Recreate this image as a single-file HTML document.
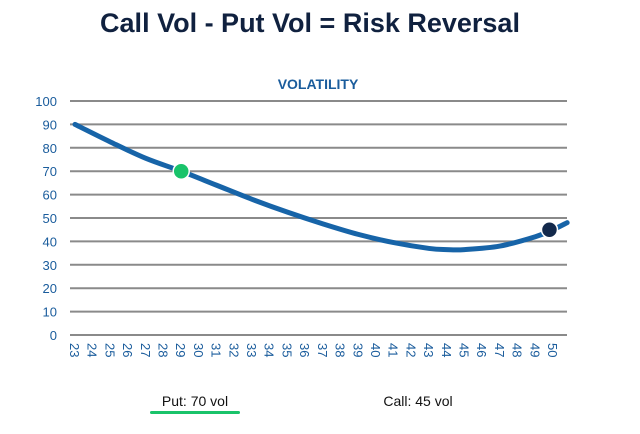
<!DOCTYPE html>
<html><head><meta charset="utf-8"><style>
body{margin:0;background:#fff;width:640px;height:429px;overflow:hidden;font-family:"Liberation Sans",sans-serif}
</style></head><body>
<svg width="640" height="429">
<text x="310" y="32" text-anchor="middle" font-size="27" font-weight="bold" fill="#10213f">Call Vol - Put Vol =  Risk Reversal</text>
<text x="318" y="89" text-anchor="middle" font-size="14" font-weight="bold" fill="#1a5c9c">VOLATILITY</text>
<g id="grid"></g><g id="ylab"></g><g id="xlab"></g>
<path id="curve" fill="none" stroke="#1764a8" stroke-width="5" stroke-linecap="round"/>
<g id="dots"></g>
<text x="195" y="406" text-anchor="middle" font-size="14" fill="#111">Put: 70 vol</text>
<rect x="150" y="411" width="90" height="3" rx="1.5" fill="#19c36a"/>
<text x="418" y="406" text-anchor="middle" font-size="14" fill="#111">Call: 45 vol</text>
</svg>
<script>
const yTicks=[0,10,20,30,40,50,60,70,80,90,100];
const xTicks=[23,24,25,26,27,28,29,30,31,32,33,34,35,36,37,38,39,40,41,42,43,44,45,46,47,48,49,50];
const strikes=[23,25,27,29,31,33,35,37,39,41,43,44,45,47,49,50,50.8];
const vols=[90,82.5,75.5,70,64,58,52.5,47.5,43,39.5,37,36.5,36.5,38,42,45,48];
const putPoint=[29,70];
const callPoint=[49.8,45];
const ns="http://www.w3.org/2000/svg";
const X=v=>75+(v-23)*(553-75)/27;
const Y=v=>335-v*2.34;
function mk(t,a,p){const e=document.createElementNS(ns,t);for(const k in a)e.setAttribute(k,a[k]);p.appendChild(e);return e;}
const g=document.getElementById('grid'),yl=document.getElementById('ylab'),xl=document.getElementById('xlab');
yTicks.forEach(v=>{
 const l=mk('line',{x1:70,x2:567,y1:Y(v),y2:Y(v),stroke:'#8a8a8a','stroke-width':2},g);
 
 
 const t=mk('text',{x:57,y:Y(v)+5,'text-anchor':'end','font-size':13,fill:'#1a5c9c'},yl);
 t.textContent=v;
 
 
});
xTicks.forEach(v=>{
 const t=mk('text',{x:0,y:0,'font-size':13,fill:'#1a5c9c',transform:`translate(${X(v)-5},343) rotate(90)`},xl);
 t.textContent=v;
 
 
});
const pts=strikes.map((s,i)=>[X(s),Y(vols[i])]);
let d='M'+pts[0];
for(let i=0;i<pts.length-1;i++){const p0=pts[i-1]||pts[i],p1=pts[i],p2=pts[i+1],p3=pts[i+2]||p2;
 d+=` C${p1[0]+(p2[0]-p0[0])/6},${p1[1]+(p2[1]-p0[1])/6} ${p2[0]-(p3[0]-p1[0])/6},${p2[1]-(p3[1]-p1[1])/6} ${p2[0]},${p2[1]}`;}
document.getElementById('curve').setAttribute('d',d);
const dg=document.getElementById('dots');
const p=mk('circle',{cx:X(putPoint[0]),cy:Y(putPoint[1]),r:8,fill:'#19c36a',stroke:'#fff','stroke-width':1.5},dg);


const c=mk('circle',{cx:X(callPoint[0]),cy:Y(callPoint[1]),r:8,fill:'#13294b',stroke:'#fff','stroke-width':1.5},dg);


</script>
</body></html>
